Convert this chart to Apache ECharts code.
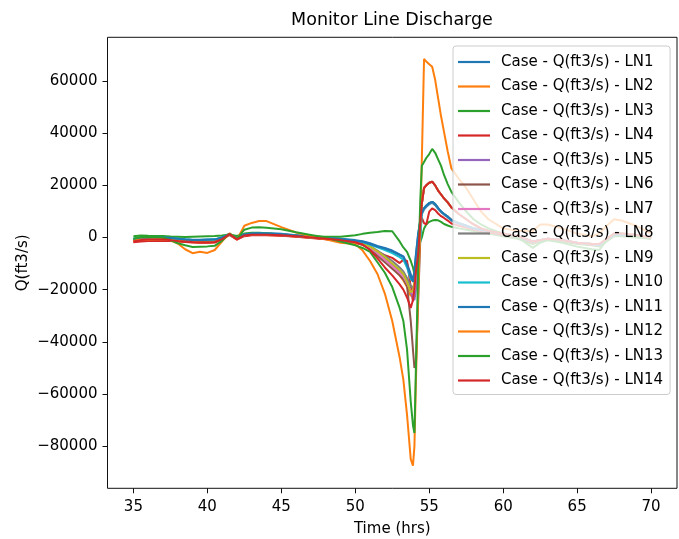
<!DOCTYPE html>
<html>
<head>
<meta charset="utf-8">
<script src="https://cdn.jsdelivr.net/npm/echarts@6/dist/echarts.min.js"></script>
<style>html,body{margin:0;padding:0;background:#fff;}#chart{width:679px;height:539px;}</style>
</head>
<body>
<div id="chart"></div>
<script>
const times = [35, 35.5, 36, 37, 37.5, 38, 38.5, 39, 39.5, 40,
  40.5, 41, 41.5, 42, 42.5, 43, 43.5, 44, 45, 46,
  47, 48, 49, 50, 50.5, 51, 51.5, 52, 52.5, 53,
  53.25, 53.5, 53.75, 53.9, 54.0, 54.1, 54.25, 54.4, 54.5, 54.65,
  54.8, 55.0, 55.2, 55.4, 55.6, 55.8, 56, 56.25, 56.5, 57,
  57.5, 58, 58.5, 59, 60, 61, 62, 62.5, 63, 64,
  65, 66, 66.5, 67, 67.5, 68, 69, 70];

const seriesNames = ['Case - Q(ft3/s) - LN1','Case - Q(ft3/s) - LN2','Case - Q(ft3/s) - LN3','Case - Q(ft3/s) - LN4',
  'Case - Q(ft3/s) - LN5','Case - Q(ft3/s) - LN6','Case - Q(ft3/s) - LN7','Case - Q(ft3/s) - LN8',
  'Case - Q(ft3/s) - LN9','Case - Q(ft3/s) - LN10','Case - Q(ft3/s) - LN11','Case - Q(ft3/s) - LN12',
  'Case - Q(ft3/s) - LN13','Case - Q(ft3/s) - LN14'];

const colors = ['#1f77b4','#ff7f0e','#2ca02c','#d62728','#9467bd','#8c564b','#e377c2','#7f7f7f','#bcbd22','#17becf',
  '#1f77b4','#ff7f0e','#2ca02c','#d62728'];

const ln1 = [-500, 0, 200, 100, -100, -400, -700, -900, -900, -800,
  -700, 100, 1400, -200, 1300, 1600, 1700, 1600, 1400, 900,
  400, -100, -500, -1000, -1400, -2200, -3200, -4000, -5000, -6500,
  -7200, -10000, -14000, -16500, -12500, -6500, 1500, 6500, 9000, 10800,
  11800, 12800, 13300, 12400, 11000, 9800, 8800, 7800, 6500, 5300,
  4300, 3300, 2800, 2300, 1300, 0, -1700, -1200, -700, -1200,
  -2200, -2700, -3000, -1000, 800, 1000, 500, -400];

const ln2 = [-1400, -1000, -900, -900, -1100, -1400, -1600, -1800, -1900, -1900,
  -1800, -600, 1000, -700, 800, 1000, 1000, 1000, 800, 400,
  -100, -600, -1100, -1800, -2600, -4000, -6000, -8500, -11500, -14500,
  -16500, -19000, -22500, -21000, -18000, -12000, -4000, 7000, 9500, 11200,
  12200, 13200, 13700, 12800, 11300, 10000, 9000, 8000, 6700, 5500,
  4500, 3500, 3000, 2500, 1500, 200, -1500, -1000, -500, -1000,
  -2000, -2500, -2800, -800, 1000, 1200, 700, -200];

const ln3 = [500, 800, 700, 600, 400, 300, 200, 300, 400, 500,
  600, 800, 1200, 600, 1500, 1800, 1800, 1600, 1200, 800,
  500, 300, 300, 900, 1400, 1800, 2100, 2500, 2400, -1500,
  -3800, -5500, -9000, -11500, -14000, -12000, -6000, -1500, 0, 3500,
  5000, 6000, 6500, 6700, 6600, 6000, 5200, 4600, 4100, 3500,
  3000, 2500, 2000, 1500, 500, -500, -2500, -1500, -1000, -1500,
  -2500, -3000, -3500, -1500, 500, 500, 0, -500];

const ln4 = [-1800, -1500, -1300, -1200, -1300, -1500, -1700, -1900, -2000, -2000,
  -1900, -700, 1000, -800, 500, 900, 900, 900, 700, 300,
  -200, -700, -1200, -2000, -2800, -4000, -5500, -6800, -7800, -9800,
  -8500, -9000, -19000, -24500, -20000, -12000, -4000, 4000, 7500, 5500,
  5000, 9900, 11200, 10500, 9200, 8200, 7500, 6500, 5400, 4500,
  3800, 3000, 2500, 2000, 1000, 0, -2000, -1200, -800, -1200,
  -2200, -2800, -3000, -1000, 1000, 1000, 500, -500];

const ln5 = [-1000, -600, -500, -500, -700, -900, -1100, -1300, -1400, -1300,
  -1200, -300, 1100, -500, 900, 1200, 1300, 1200, 1000, 600,
  100, -400, -900, -1600, -2300, -3500, -5500, -8000, -10500, -13000,
  -14500, -17000, -21000, -23000, -24000, -20000, -8000, 6000, 13000, 19000,
  20000, 21000, 21400, 20000, 18000, 16500, 15000, 13500, 11500, 9000,
  7000, 5000, 3500, 2500, 1500, 500, -1500, -1000, -500, -1000,
  -2000, -2500, -2500, -500, 1500, 1500, 1000, 0];

const ln6 = [-1300, -900, -700, -700, -900, -1200, -1400, -1600, -1700, -1700,
  -1600, -500, 1200, -600, 900, 1200, 1200, 1200, 1000, 600,
  0, -500, -1100, -1900, -2800, -4500, -7000, -9500, -12000, -14500,
  -16000, -18500, -32000, -43000, -50000, -48500, -25000, 0, 13000, 19000,
  20000, 21000, 21400, 20000, 18000, 16500, 15000, 13500, 11500, 9000,
  7000, 5000, 3500, 2500, 1500, 500, -1500, -1000, -500, -1000,
  -2000, -2500, -2500, -500, 1500, 1500, 1000, 0];

const ln7 = [-1100, -700, -600, -600, -800, -1000, -1200, -1400, -1500, -1400,
  -1300, -400, 1100, -500, 900, 1200, 1200, 1200, 1000, 600,
  0, -400, -900, -1600, -2400, -3800, -6000, -8500, -11000, -13500,
  -15000, -17500, -20500, -21500, -20000, -15000, -3000, 7000, 9500, 11200,
  12200, 13200, 13700, 12800, 11300, 10000, 9000, 8000, 6700, 5500,
  4500, 3500, 3000, 2500, 1500, 200, -1500, -1000, -500, -1000,
  -2000, -2500, -2800, -800, 1000, 1200, 700, -200];

const ln8 = [-900, -500, -300, -300, -500, -800, -1000, -1200, -1300, -1200,
  -1100, -300, 1200, -400, 1000, 1300, 1300, 1300, 1100, 700,
  100, -300, -800, -1400, -2100, -3300, -5000, -7000, -9000, -11500,
  -13000, -15500, -18500, -19500, -17500, -12000, -3000, 7000, 9500, 11200,
  12200, 13200, 13700, 12800, 11300, 10000, 9000, 8000, 6700, 5500,
  4500, 3500, 3000, 2500, 1500, 200, -1500, -1000, -500, -1000,
  -2000, -2500, -2800, -800, 1000, 1200, 700, -200];

const ln9 = [-1000, -600, -400, -400, -600, -900, -1100, -1300, -1400, -1300,
  -1200, -400, 1100, -500, 900, 1200, 1200, 1200, 1000, 600,
  0, -400, -900, -1500, -2200, -3500, -5300, -7500, -10000, -12500,
  -14000, -17000, -21000, -20500, -17000, -11000, -3000, 6000, 13000, 19000,
  20000, 21000, 21400, 20000, 18000, 16500, 15000, 13500, 11500, 9000,
  7000, 5000, 3500, 2500, 1500, 500, -1500, -1000, -500, -1000,
  -2000, -2500, -2500, -500, 1500, 1500, 1000, 0];

const ln10 = [-600, -200, 100, 0, -200, -500, -800, -1000, -1000, -900,
  -800, 0, 1200, -300, 1100, 1400, 1500, 1400, 1200, 700,
  200, -300, -700, -1300, -1800, -2700, -3800, -4800, -6000, -7500,
  -8500, -11500, -16000, -16500, -16000, -13000, -6000, -1000, 9500, 11200,
  12200, 13200, 13700, 12800, 11300, 10000, 9000, 8000, 6700, 5500,
  4500, 3500, 3000, 2500, 1500, 200, -1500, -1000, -500, -1000,
  -2000, -2500, -2800, -800, 1000, 1200, 700, -200];

const ln11 = [-800, -300, 0, 0, -200, -500, -800, -1000, -1000, -900,
  -800, 0, 1300, -300, 1200, 1500, 1600, 1500, 1300, 800,
  300, -200, -600, -1200, -1600, -2500, -3500, -4200, -5300, -6700,
  -7400, -10500, -15000, -17000, -13000, -7000, 1000, 7000, 9500, 11200,
  12200, 13200, 13700, 12800, 11300, 10000, 9000, 8000, 6700, 5500,
  4500, 3500, 3000, 2500, 1500, 200, -1500, -1000, -500, -1000,
  -2000, -2500, -2800, -800, 1000, 1200, 700, -200];

const ln12 = [-1200, -800, -900, -700, -1000, -2300, -4500, -6000, -5500, -5900,
  -4800, -1500, 1600, -800, 4500, 5600, 6300, 6300, 4000, 1900,
  500, -700, -2000, -2500, -5000, -9000, -14000, -21500, -32000, -46000,
  -54500, -68000, -85000, -87500, -80000, -55000, -22000, 5000, 30000, 68500,
  67500, 66500, 65500, 60500, 53500, 46500, 40500, 33000, 26500, 22500,
  19000, 14500, 10000, 7000, 3500, 2500, 2500, 5000, 5000, 3500,
  1500, 500, 1500, 4500, 7000, 6500, 4500, 1500];

const ln13 = [-500, 200, 300, 0, -1000, -2200, -3000, -3600, -3500, -3400,
  -3200, -1200, 1500, -500, 3000, 3800, 3900, 3700, 3200, 2000,
  1000, 0, -1500, -3000, -4000, -5500, -9500, -13500, -19000, -27000,
  -32000, -43000, -63000, -72000, -75000, -50000, -12000, 15000, 27500, 29000,
  30500, 32000, 34000, 32500, 30000, 27500, 24000, 20500, 17500, 13500,
  10000, 7000, 5000, 3500, 1500, 0, -4000, -2000, -1000, -2000,
  -3500, -4500, -4800, -1000, 1500, 1500, 500, -500];

const ln14 = [-1500, -1000, -800, -800, -1000, -1300, -1500, -1700, -1800, -1800,
  -1700, -600, 1300, -700, 800, 1100, 1100, 1100, 900, 500,
  0, -500, -1000, -1800, -2700, -4800, -8000, -11500, -14500, -18000,
  -20000, -23000, -27000, -24000, -19500, -13000, -6500, 6000, 13000, 19000,
  20000, 21000, 21400, 20000, 18000, 16500, 15000, 13500, 11500, 9000,
  7000, 5000, 3500, 2500, 1500, 500, -1500, -1000, -500, -1000,
  -2000, -2500, -2500, -500, 1500, 1500, 1000, 0];

const allValues = [ln1, ln2, ln3, ln4, ln5, ln6, ln7, ln8, ln9, ln10, ln11, ln12, ln13, ln14];

const xTicks = [35, 40, 45, 50, 55, 60, 65, 70];
const yTicks = [-80000, -60000, -40000, -20000, 0, 20000, 40000, 60000];

const FONT = 'DejaVu Sans';
const chart = echarts.init(document.getElementById('chart'), null, {renderer: 'canvas'});

const series = allValues.map((vals, k) => ({
  name: seriesNames[k],
  type: 'line',
  data: times.map((t, i) => [t, vals[i]]),
  showSymbol: false,
  symbol: 'none',
  color: colors[k],
  lineStyle: {width: 2, color: colors[k]},
  emphasis: {disabled: true},
  animation: false
}));

chart.setOption({
  animation: false,
  textStyle: {fontFamily: FONT},
  title: {
    text: 'Monitor Line Discharge',
    left: 392,
    textAlign: 'center',
    top: 11,
    padding: 0,
    textStyle: {fontFamily: FONT, fontSize: 17.5, fontWeight: 'normal', color: '#000'}
  },
  grid: {
    left: 107.5, top: 37.3, width: 569.5, height: 451,
    show: true, borderColor: '#111', borderWidth: 1, backgroundColor: 'transparent',
    containLabel: false,
    outerBoundsMode: 'none'
  },
  legend: {
    orient: 'vertical',
    left: 453, top: 46,
    padding: [7, 7, 5, 5],
    icon: 'rect',
    itemWidth: 32, itemHeight: 2.2, itemGap: 6.5,
    backgroundColor: 'rgba(255,255,255,0.8)',
    borderColor: '#cccccc', borderWidth: 1, borderRadius: 3,
    textStyle: {fontFamily: FONT, fontSize: 15, color: '#000', lineHeight: 18, padding: [0, 0, 0, 6]},
    data: seriesNames,
    selectedMode: false
  },
  xAxis: {
    type: 'value', min: 33.25, max: 71.75,
    name: 'Time (hrs)', nameLocation: 'middle', nameGap: 33, nameMoveOverlap: false,
    nameTextStyle: {fontFamily: FONT, fontSize: 15, color: '#000'},
    axisLine: {show: false, onZero: false},
    axisTick: {show: true, customValues: xTicks, length: 5, lineStyle: {color: '#111'}},
    axisLabel: {customValues: xTicks, fontFamily: FONT, fontSize: 15, color: '#000', margin: 11},
    splitLine: {show: false}
  },
  yAxis: {
    type: 'value', min: -96200, max: 76800,
    name: 'Q(ft3/s)', nameLocation: 'middle', nameGap: 77, nameRotate: 90, nameMoveOverlap: false,
    nameTextStyle: {fontFamily: FONT, fontSize: 15, color: '#000'},
    axisLine: {show: false, onZero: false},
    axisTick: {show: true, customValues: yTicks, length: 5, lineStyle: {color: '#111'}},
    axisLabel: {customValues: yTicks, fontFamily: FONT, fontSize: 15, color: '#000', margin: 10,
      formatter: v => (v < 0 ? '\u2212' + Math.abs(v) : String(v))},
    splitLine: {show: false}
  },
  series: series
});
</script>
</body>
</html>
